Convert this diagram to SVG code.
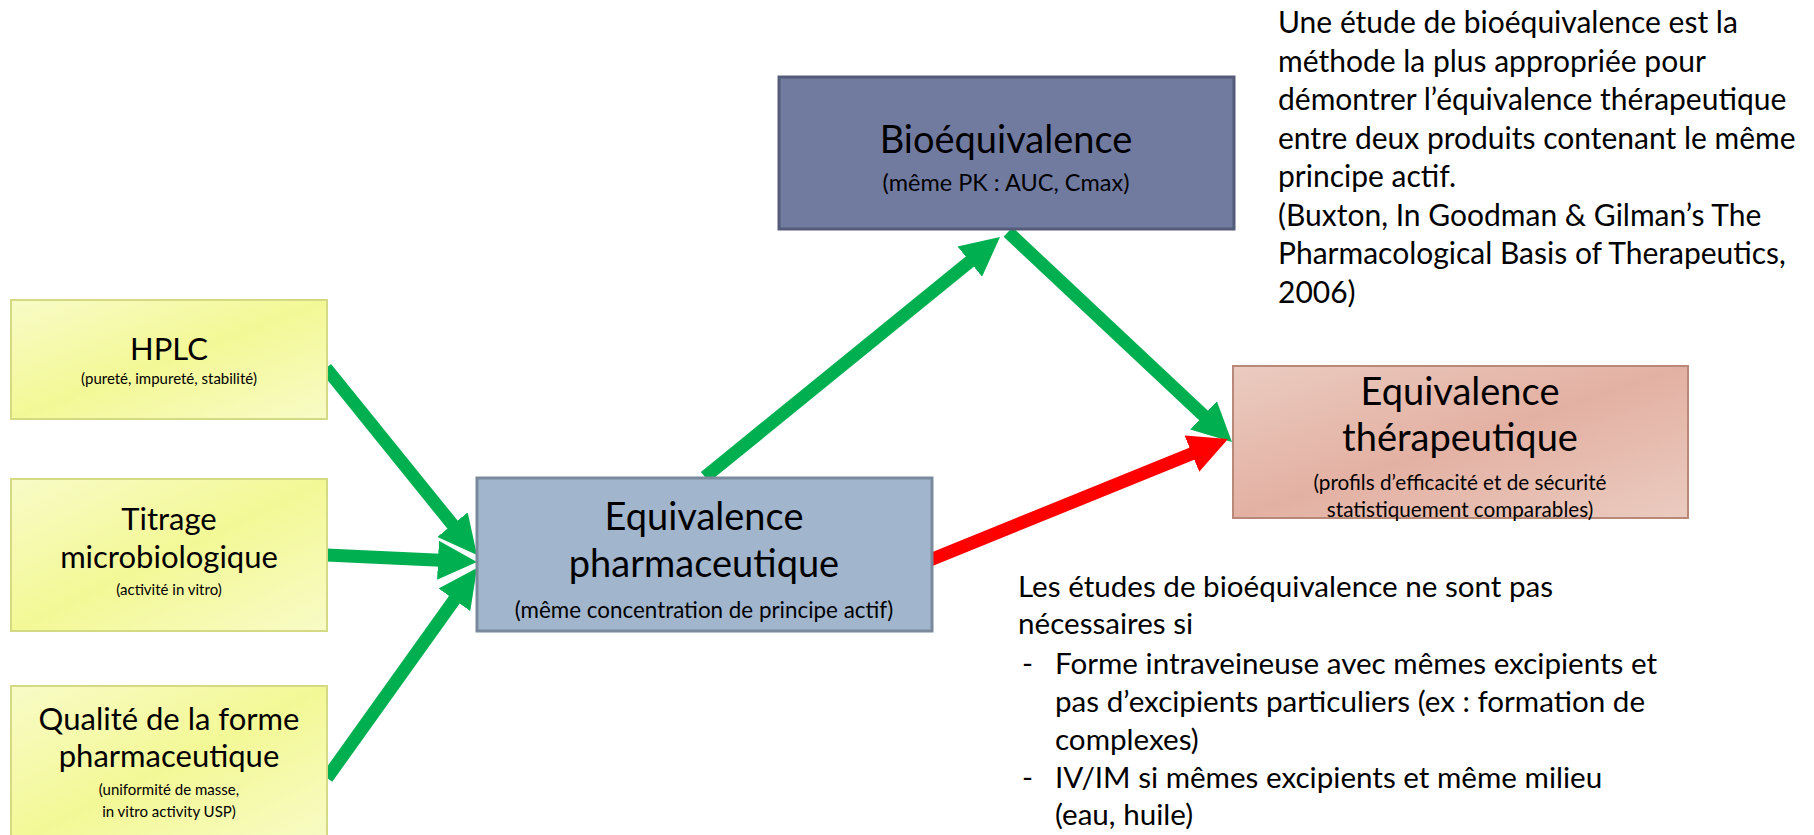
<svg xmlns="http://www.w3.org/2000/svg" width="1814" height="835" viewBox="0 0 1814 835">
<style>
  text { font-family: Lato, "Open Sans", "Liberation Sans", sans-serif; fill: #000; }
  .c { text-anchor: middle; }
  .big { font-size: 38px; }
  .mid { font-size: 31px; }
  .sub { font-size: 22.4px; }
  .sub2 { font-size: 23.5px; }
  .sm { font-size: 15px; }
  .st { font-size: 20.7px; }
  .note { font-size: 30px; }
  .note2 { font-size: 29.6px; }
  .yel { fill: url(#gY); stroke: #D4D983; stroke-width: 2; }
  .arr { fill: none; stroke-width: 13; stroke-linecap: butt; }
  .g { stroke: #00B050; marker-end: url(#hG); }
  .r { stroke: #FF0000; marker-end: url(#hR); }
</style>
<defs>
  <linearGradient id="gY" x1="0" y1="0" x2="1" y2="1">
    <stop offset="0" stop-color="#F8FBC6"/>
    <stop offset="0.5" stop-color="#F3F896"/>
    <stop offset="1" stop-color="#F8FBC6"/>
  </linearGradient>
  <linearGradient id="gT" x1="0" y1="0" x2="1" y2="1">
    <stop offset="0" stop-color="#EBCBC0"/>
    <stop offset="0.5" stop-color="#E3B1A3"/>
    <stop offset="1" stop-color="#EBCBC0"/>
  </linearGradient>
  <marker id="hG" viewBox="0 0 10 10" refX="2" refY="5" markerWidth="3" markerHeight="3" orient="auto" markerUnits="strokeWidth">
    <path d="M0,0 L10,5 L0,10 z" fill="#00B050"/>
  </marker>
  <marker id="hR" viewBox="0 0 10 10" refX="2" refY="5" markerWidth="3" markerHeight="3" orient="auto" markerUnits="strokeWidth">
    <path d="M0,0 L10,5 L0,10 z" fill="#FF0000"/>
  </marker>
</defs>
<rect width="1814" height="835" fill="#fff"/>

<g id="connectors">
  <line class="arr g" x1="326" y1="368" x2="457.4" y2="530.7"/>
  <line class="arr g" x1="326" y1="555" x2="445.8" y2="560.6"/>
  <line class="arr g" x1="327" y1="778" x2="458.9" y2="593.4"/>
  <line class="arr g" x1="705" y1="477" x2="975.8" y2="256.7"/>
  <line class="arr g" x1="1008" y1="232" x2="1209.2" y2="420.7"/>
  <line class="arr r" x1="930" y1="560" x2="1199.1" y2="450.7"/>
</g>

<g id="hplc">
  <rect class="yel" x="11" y="300" width="316" height="119"/>
  <text class="c mid" x="169" y="360">HPLC</text>
  <text class="c sm" x="169" y="384">(pureté, impureté, stabilité)</text>
</g>
<g id="titrage">
  <rect class="yel" x="11" y="479" width="316" height="152"/>
  <text class="c mid" x="169" y="530">Titrage</text>
  <text class="c mid" x="169" y="568">microbiologique</text>
  <text class="c sm" x="169" y="595">(activité in vitro)</text>
</g>
<g id="qualite">
  <rect class="yel" x="11" y="686" width="316" height="160"/>
  <text class="c mid" x="169" y="730">Qualité de la forme</text>
  <text class="c mid" x="169" y="767">pharmaceutique</text>
  <text class="c sm" x="169" y="795">(uniformité de masse,</text>
  <text class="c sm" x="169" y="817">in vitro activity USP)</text>
</g>
<g id="pharma">
  <rect x="477" y="478" width="455" height="153" fill="#A1B6CD" stroke="#7A8A9C" stroke-width="3"/>
  <text class="c big" x="704" y="530">Equivalence</text>
  <text class="c big" x="704" y="577">pharmaceutique</text>
  <text class="c sub" x="704" y="618">(même concentration de principe actif)</text>
</g>
<g id="bio">
  <rect x="779" y="77" width="455" height="152" fill="#717BA0" stroke="#545C7A" stroke-width="3"/>
  <text class="c big" x="1006" y="153">Bioéquivalence</text>
  <text class="c sub2" x="1006" y="191">(même PK : AUC, Cmax)</text>
</g>
<g id="therap">
  <rect x="1233" y="366" width="455" height="152" fill="url(#gT)" stroke="#B88878" stroke-width="2"/>
  <text class="c big" x="1460" y="405">Equivalence</text>
  <text class="c big" x="1460" y="451">thérapeutique</text>
  <text class="c st" x="1460" y="490">(profils d’efficacité et de sécurité</text>
  <text class="c st" x="1460" y="517">statistiquement comparables)</text>
</g>

<g id="note-top">
  <text class="note" x="1278" y="33">Une étude de bioéquivalence est la</text>
  <text class="note" x="1278" y="71.5">méthode la plus appropriée pour</text>
  <text class="note" x="1278" y="110">démontrer l’équivalence thérapeutique</text>
  <text class="note" x="1278" y="148.5">entre deux produits contenant le même</text>
  <text class="note" x="1278" y="187">principe actif.</text>
  <text class="note" x="1278" y="225.5">(Buxton, In Goodman &amp; Gilman’s The</text>
  <text class="note" x="1278" y="264">Pharmacological Basis of Therapeutics,</text>
  <text class="note" x="1278" y="302.5">2006)</text>
</g>

<g id="note-bottom">
  <text class="note2" x="1018" y="597">Les études de bioéquivalence ne sont pas</text>
  <text class="note2" x="1018" y="634">nécessaires si</text>
  <text class="note2" x="1022" y="674">-</text>
  <text class="note2" x="1055" y="674">Forme intraveineuse avec mêmes excipients et</text>
  <text class="note2" x="1055" y="712">pas d’excipients particuliers (ex : formation de</text>
  <text class="note2" x="1055" y="750">complexes)</text>
  <text class="note2" x="1022" y="788">-</text>
  <text class="note2" x="1055" y="788">IV/IM si mêmes excipients et même milieu</text>
  <text class="note2" x="1055" y="825">(eau, huile)</text>
</g>
</svg>
